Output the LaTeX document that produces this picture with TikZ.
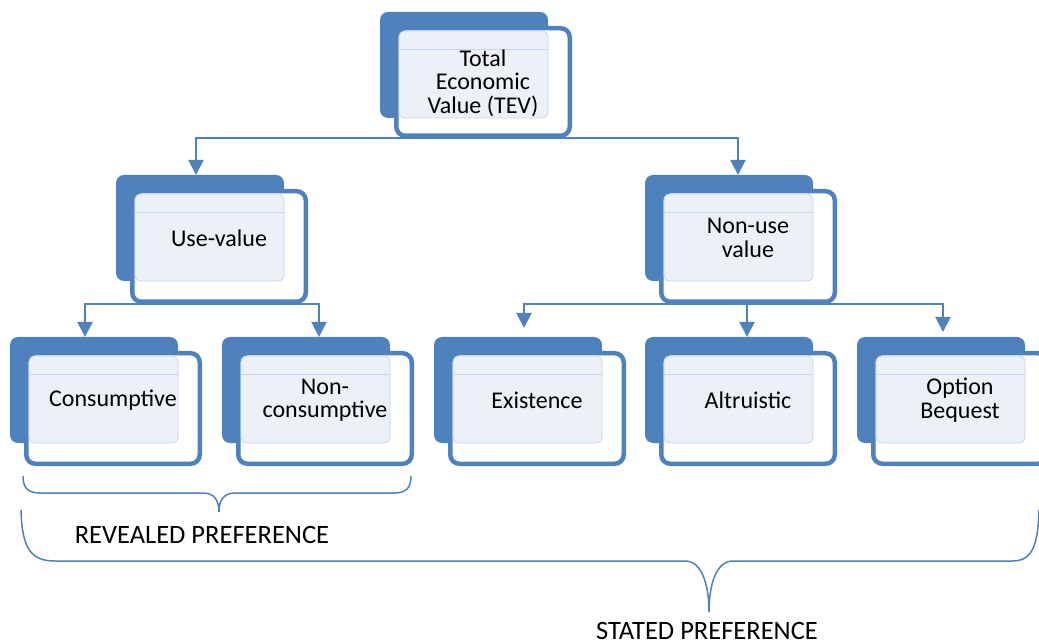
\documentclass[tikz,border=0pt]{standalone}
\usepackage{fontspec}
\setmainfont{Carlito}
\usetikzlibrary{arrows.meta}
\definecolor{box_blue}		{RGB}{79,129,189}
\definecolor{face_fill}		{RGB}{236,241,248}
\definecolor{face_line}		{RGB}{197,213,235}
% one value box: back plate, framed card, light face with its rule, text
\newcommand{\valuebox}[5][0]{
	\node[boxBack]  (#2-back) at (#3,#4) {};
	\node[boxFront] (#2)      at ({#3+16.25},{#4+16.25}) {};
	\node[boxFace]  (#2-face) at ({#3+19},{#4+19}) {};
	\draw[face_line, line width = 0.8pt] ([yshift=-18pt]#2-face.north west) -- ([yshift=-18pt]#2-face.north east);
	\node[boxText]  (#2-text) at ({#3+103},{#4+63+#1}) {#5};
}
\begin{document}
\begin{tikzpicture}[
		x               = 1pt,
		y               = -1pt,
		boxBack/.style  = {rectangle,
			fill           = box_blue,
			rounded corners = 8pt,
			anchor         = north west,
			inner sep      = 0pt,
			outer sep      = 0pt,
			minimum width  = 168pt,
			minimum height = 106pt},
		boxFront/.style = {rectangle,
			draw           = box_blue,
			fill           = white,
			line width     = 4.5pt,
			rounded corners = 9pt,
			anchor         = north west,
			inner sep      = 0pt,
			outer sep      = 0pt,
			minimum width  = 173.5pt,
			minimum height = 110.5pt},
		boxFace/.style  = {rectangle,
			draw           = face_line,
			fill           = face_fill,
			line width     = 0.8pt,
			rounded corners = 6pt,
			anchor         = north west,
			inner sep      = 0pt,
			outer sep      = 0pt,
			minimum width  = 149pt,
			minimum height = 87pt},
		boxText/.style  = {align = center,
			inner sep      = 0pt,
			font = \fontsize{24}{23.5}\selectfont},
		prefText/.style = {anchor = base,
			inner sep      = 0pt,
			font = \fontsize{26.5}{26}\selectfont},
		link/.style     = {draw = box_blue,
			line width     = 2pt,
			-{Triangle[width=15pt,length=15pt]}},
		brace/.style    = {draw = box_blue,
			line width     = 1.5pt}]
		
		\useasboundingbox (0,0) rectangle (1039,644);
		
		\begin{scope}[boxFront/.append style = {minimum height = 107.5pt}]
			\valuebox[8]{tev}{380}{12}{Total\\Economic\\Value (TEV)}
		\end{scope}
		
		\valuebox{use}{116}{175}{Use-value}
		\valuebox{nonuse}{645}{175}{Non-use\\value}
		
		\valuebox{cons}{10}{337}{Consumptive}
		\valuebox{noncons}{222}{337}{Non-\\consumptive}
		\valuebox{exist}{434}{337}{Existence}
		\valuebox{altru}{645}{337}{Altruistic}
		\valuebox{option}{857}{337}{Option\\Bequest}
		
		\coordinate (tev-bus)    at ([yshift=-2pt]tev.south);
		\coordinate (use-bus)    at ([yshift=-2pt]use.south);
		\coordinate (nonuse-bus) at ([yshift=-2pt]nonuse.south);
		
		\draw[link] (tev.south) -- (tev-bus) -| ([xshift=80pt]use-back.north west);
		\draw[link] (tev.south) -- (tev-bus) -| ([xshift=93pt]nonuse-back.north west);
		
		\draw[link] (use.south) -- (use-bus) -| ([xshift=75pt]cons-back.north west);
		\draw[link] (use.south) -- (use-bus) -| ([xshift=97pt]noncons-back.north west);
		
		\draw[link, shorten >=9pt] (nonuse.south) -- (nonuse-bus) -| ([xshift=90pt]exist-back.north west);
		\draw[link] (nonuse.south) -- (nonuse-bus) -| ([xshift=102pt]altru-back.north west);
		\draw[link, shorten >=5pt] (nonuse.south) -- (nonuse-bus) -| ([xshift=86pt]option-back.north west);
		
		% braces under the boxes
		\draw[brace] (23,476) .. controls (23,488) and (28,493) .. (40,493) -- (203,493)
			.. controls (214,493) and (219,500) .. (219,512)
			.. controls (219,500) and (224,493) .. (235,493) -- (394,493)
			.. controls (406,493) and (411,488) .. (411,476);
		\node[prefText] (revealed) at (202,543) {REVEALED PREFERENCE};
		
		\draw[brace] (21,510) .. controls (22,550) and (32,561) .. (55,561) -- (685,561)
			.. controls (702,561) and (709,585) .. (709,612)
			.. controls (709,585) and (716,561) .. (733,561) -- (1012,561)
			.. controls (1030,561) and (1038,550) .. (1039,510);
		\node[prefText] (stated) at (707,639) {STATED PREFERENCE};
		
	\end{tikzpicture}
\end{document}
